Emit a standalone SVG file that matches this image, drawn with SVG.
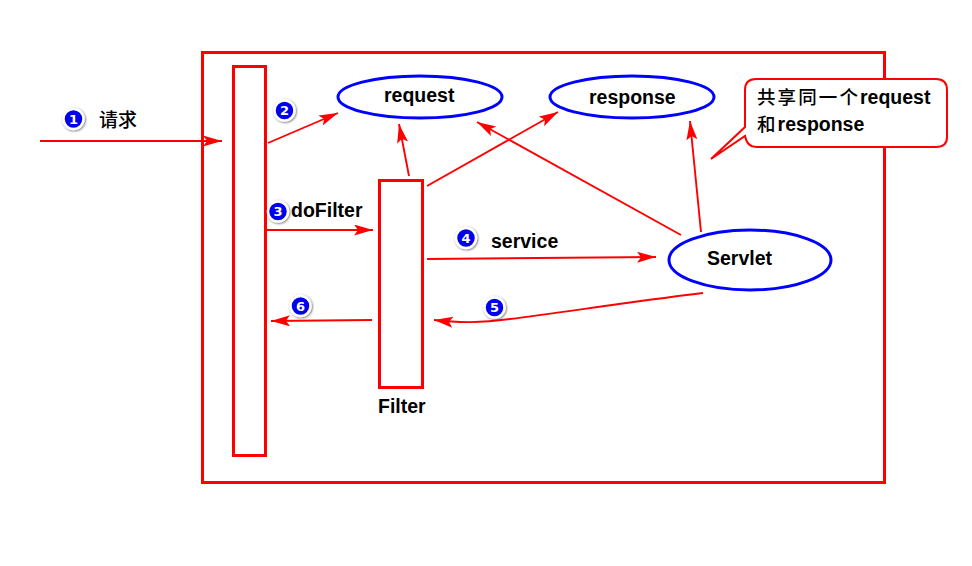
<svg xmlns="http://www.w3.org/2000/svg" width="972" height="566" viewBox="0 0 972 566">
<style>
.box{fill:none;stroke:#f00;stroke-width:3}
.ell{fill:#fff;stroke:#00f;stroke-width:3}
.c{fill:none;stroke:#f00;stroke-width:1.9}
.t{font-family:"Liberation Sans","Noto Sans CJK SC",sans-serif;font-weight:bold;font-size:19.500px;fill:#000}
.z{font-family:"Noto Sans CJK SC",sans-serif;font-weight:500;font-size:19px;fill:#000}
.b{fill:#00e;stroke:#fff;stroke-width:2.5;filter:url(#s)}
.n{font-family:"DejaVu Sans",sans-serif;font-weight:bold;font-size:13px;fill:#fff;text-anchor:middle}
</style>
<defs>
<marker id="a" markerUnits="userSpaceOnUse" markerWidth="20" markerHeight="12" refX="19" refY="5.500" orient="auto"><path d="M0 0L19 5.500L0 11L4 5.500Z" fill="#f00"/></marker>
<filter id="s" x="-40%" y="-40%" width="180%" height="180%"><feDropShadow dx="0.8" dy="0.8" stdDeviation="1.2" flood-color="#000" flood-opacity=".6"/></filter>
</defs>
<rect x="0" y="0" width="972" height="566" fill="#fff"/>
<rect id="outer" class="box" x="202.500" y="52.500" width="682" height="430"/>
<g id="chain"><rect class="box" x="233.500" y="66.500" width="32" height="389"/></g>
<g id="filter"><rect class="box" x="379.500" y="180.500" width="43" height="207"/><text class="t" x="378" y="413">Filter</text></g>
<g id="request"><ellipse class="ell" cx="420" cy="97" rx="82" ry="21"/><text class="t" x="384" y="102">request</text></g>
<g id="response"><ellipse class="ell" cx="632" cy="97" rx="82" ry="21"/><text class="t" x="589" y="104">response</text></g>
<g id="servlet"><ellipse class="ell" cx="750" cy="260" rx="81" ry="30"/><text class="t" x="707" y="265">Servlet</text></g>
<g id="note">
<path d="M756 79H936Q947 79 947 90V137Q947 147 936 147H756Q747 147 745 136L711 159L745 127V90Q745 79 756 79Z" fill="#fff" stroke="#f00" stroke-width="2"/>
<text x="757" y="103.500"><tspan class="z" style="font-size:18.500px;letter-spacing:2.100px">共享同一个</tspan><tspan class="t">request</tspan></text>
<text x="757" y="131"><tspan class="z" style="font-size:18.500px;letter-spacing:2.100px">和</tspan><tspan class="t">response</tspan></text>
</g>
<g id="connectors">
<path class="c" marker-end="url(#a)" d="M40 141H222"/>
<path class="c" marker-end="url(#a)" d="M268 143L338 113"/>
<path class="c" marker-end="url(#a)" d="M267 230H373"/>
<path class="c" marker-end="url(#a)" d="M409 176L399 124"/>
<path class="c" marker-end="url(#a)" d="M427 186L558 112"/>
<path class="c" marker-end="url(#a)" d="M427 259L656 257"/>
<path class="c" marker-end="url(#a)" d="M681 235L477 122"/>
<path class="c" marker-end="url(#a)" d="M701 232L690 121"/>
<path class="c" marker-end="url(#a)" d="M703 293C620 303 560 313 510 319C480 323 460 323 434 320"/>
<path class="c" marker-end="url(#a)" d="M372 320L271 321"/>
</g>
<g id="badges">
<circle class="b" cx="73.500" cy="119" r="10"/><text class="n" x="73.500" y="123.500">1</text>
<circle class="b" cx="284.500" cy="110.500" r="10"/><text class="n" x="284.500" y="115">2</text>
<circle class="b" cx="278" cy="211.500" r="10"/><text class="n" x="278" y="216">3</text>
<circle class="b" cx="466" cy="238" r="10"/><text class="n" x="466" y="242.500">4</text>
<circle class="b" cx="494.500" cy="307.500" r="10"/><text class="n" x="494.500" y="312">5</text>
<circle class="b" cx="300.500" cy="306" r="10"/><text class="n" x="300.500" y="310.500">6</text>
</g>
<text class="z" x="99" y="127">请求</text>
<text class="t" x="291" y="217">doFilter</text>
<text class="t" x="491" y="248">service</text>
</svg>
